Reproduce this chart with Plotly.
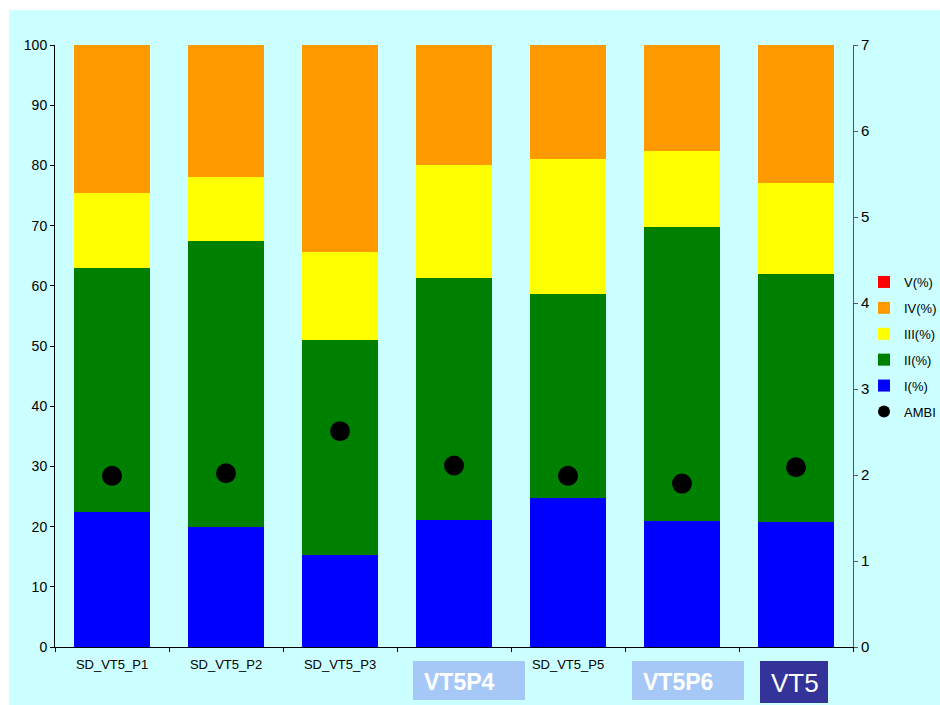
import plotly.graph_objects as go

categories = ["SD_VT5_P1", "SD_VT5_P2", "SD_VT5_P3", "SD_VT5_P4", "SD_VT5_P5", "SD_VT5_P6", "VT5"]
pct_I = [22.5, 19.9, 15.3, 21.1, 24.8, 20.9, 20.8]
pct_II = [40.5, 47.5, 35.7, 40.2, 33.8, 48.9, 41.2]
pct_III = [12.4, 10.7, 14.6, 18.8, 22.5, 12.6, 15.1]
pct_IV = [24.6, 21.9, 34.4, 19.9, 18.9, 17.6, 22.9]
pct_V = [0, 0, 0, 0, 0, 0, 0]
ambi = [1.99, 2.02, 2.51, 2.11, 1.99, 1.90, 2.09]

# category labels hidden in the reference behind the coloured label boxes
overlay_labels = ["VT5P4", "VT5P6", "VT5"]
covered = ["SD_VT5_P4", "SD_VT5_P6", "VT5"]

FONT = "Liberation Sans, Arial"
BG = "#CCFFFF"
FW, FH = 932, 697   # figure sits 8px in from the top-left corner of the page

fig = go.Figure()

series = [("I(%)", pct_I, "#0000FF"), ("II(%)", pct_II, "#008000"),
          ("III(%)", pct_III, "#FFFF00"), ("IV(%)", pct_IV, "#FF9900"),
          ("V(%)", pct_V, "#FF0000")]
for i, (name, vals, col) in enumerate(series):
    fig.add_trace(go.Bar(x=categories, y=vals, name=name, marker_color=col,
                         marker_line_width=0, legendgroup="g%d" % i,
                         legendrank=5 - i))
fig.add_trace(go.Scatter(
    x=categories, y=ambi, name="AMBI", mode="markers", yaxis="y2",
    marker=dict(color="black", size=20, symbol="circle"),
    legendgroup="g6", legendrank=6,
))

# plot area geometry in figure pixels
L, R, T, B = 47, 845, 37, 639
W, H = R - L, B - T

def px(x):
    return (x - L) / W

def py(y):
    return (B - y) / H

shapes = [
    dict(type="rect", xref="paper", yref="paper", x0=px(-5), x1=px(1), y0=py(FH + 5), y1=py(-5),
         fillcolor="white", line_width=0, layer="above"),
    dict(type="rect", xref="paper", yref="paper", x0=px(-5), x1=px(FW + 5), y0=py(2), y1=py(-5),
         fillcolor="white", line_width=0, layer="above"),
]
boxes = [(405, 517, 653, 692, "#A6C8F6", 23, True),
         (624, 736, 653, 692, "#A6C8F6", 23, True),
         (752, 820, 653, 695, "#333399", 26, False)]
annotations = []
for (x0, x1, y0, y1, col, fs, bold), lab in zip(boxes, overlay_labels):
    shapes.append(dict(type="rect", xref="paper", yref="paper", x0=px(x0), x1=px(x1),
                       y0=py(y1), y1=py(y0), fillcolor=col, line_width=0, layer="above"))
    txt = "<b>%s</b>" % lab if bold else lab
    annotations.append(dict(xref="paper", yref="paper", x=px(x0 + 9), y=py((y0 + y1) / 2 + 1),
                            xanchor="left", yanchor="middle", text=txt, showarrow=False,
                            font=dict(family=FONT, size=fs, color="white")))

ticktext = ["" if c in covered else c for c in categories]

fig.update_layout(
    width=FW, height=FH,
    margin=dict(l=L, r=FW - R, t=T, b=FH - B, autoexpand=False),
    paper_bgcolor=BG, plot_bgcolor=BG,
    barmode="stack", bargap=0.34,
    font=dict(family=FONT, size=14, color="black"),
    xaxis=dict(type="category", showline=True, linecolor="black", linewidth=1,
               ticks="outside", ticklen=4, tickcolor="black", tickson="boundaries",
               tickmode="array", tickvals=categories, ticktext=ticktext,
               showgrid=False, tickfont=dict(size=13), ticklabelstandoff=5, fixedrange=True),
    yaxis=dict(range=[0, 100], dtick=10, showline=True, linecolor="black", linewidth=1,
               ticks="outside", ticklen=4, tickcolor="black", showgrid=False,
               zeroline=False, tickfont=dict(size=14)),
    yaxis2=dict(range=[0, 7], dtick=1, overlaying="y", side="right", showline=True,
                linecolor="#555555", linewidth=1, ticks="outside", ticklen=4,
                tickcolor="#555555", showgrid=False, zeroline=False,
                tickfont=dict(size=15)),
    legend=dict(xref="container", yref="container", x=856 / FW, y=1 - 339 / FH,
                xanchor="left", yanchor="middle",
                traceorder="grouped", tracegroupgap=6,
                font=dict(size=13), bgcolor="rgba(0,0,0,0)", itemsizing="constant"),
    shapes=shapes, annotations=annotations,
)

fig.write_html("out.html",
               post_script="document.body.style.margin='8px 0 0 8px';")
